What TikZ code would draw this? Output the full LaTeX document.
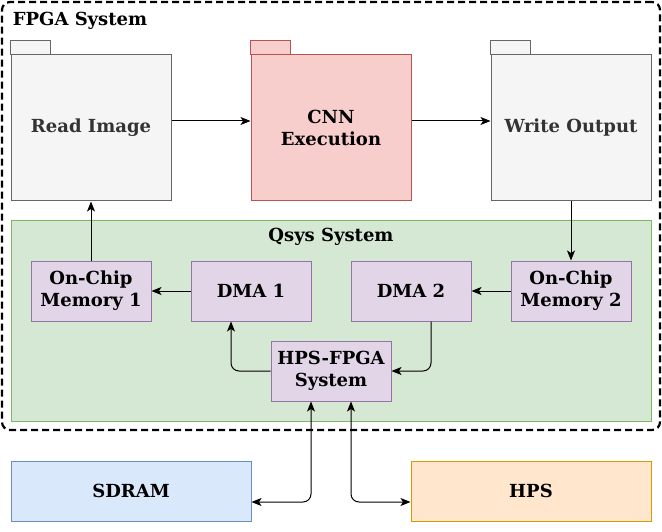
\documentclass[tikz,border=0pt]{standalone}
\usepackage{fontspec}
\setmainfont{DejaVu Serif}
\usetikzlibrary{arrows.meta}

\definecolor{pagegray}{HTML}{F5F5F5}
\definecolor{pageline}{HTML}{666666}
\definecolor{pagetext}{HTML}{333333}
\definecolor{cnnfill}{HTML}{F8CECC}
\definecolor{cnnline}{HTML}{B85450}
\definecolor{qsysfill}{HTML}{D5E8D4}
\definecolor{qsysline}{HTML}{82B366}
\definecolor{blockfill}{HTML}{E1D5E7}
\definecolor{blockline}{HTML}{9673A6}
\definecolor{ramfill}{HTML}{DAE8FC}
\definecolor{ramline}{HTML}{6C8EBF}
\definecolor{hpsfill}{HTML}{FFE6CC}
\definecolor{hpsline}{HTML}{D79B00}

\begin{document}
\begin{tikzpicture}
    [x=1pt,y=-1pt,line width=1pt,
     font=\fontsize{18}{22}\selectfont\bfseries,
     post/.style={-{Stealth[length=10pt,width=8pt,inset=2.5pt]}},
     both/.style={{Stealth[length=10pt,width=8pt,inset=2.5pt]}-{Stealth[length=10pt,width=8pt,inset=2.5pt]}},
     folder/.style={shape=rectangle,draw=pageline,fill=pagegray,text=pagetext,
       minimum width=160pt,minimum height=146pt,inner sep=0pt,align=center},
     tab/.style={draw=pageline,fill=pagegray},
     block/.style={shape=rectangle,draw=blockline,fill=blockfill,
       minimum width=120pt,minimum height=60pt,inner sep=0pt,align=center},
     wide/.style={shape=rectangle,minimum width=240pt,minimum height=60pt,inner sep=0pt}]
    \useasboundingbox (0,0) rectangle (662,532);
    % FPGA side
    \node [shape=rectangle,draw=black,line width=2.2pt,dash pattern=on 7pt off 4pt,
      rounded corners=8pt,minimum width=658pt,minimum height=428pt] (fpga) at (331,216) {};
    \node [anchor=west] (fpgalabel) at (9,21) {FPGA System};
    \node [folder] (read) at (91,128) {Read Image};
    \node [folder,draw=cnnline,fill=cnnfill,text=black] (cnn) at (331,128) {CNN\\Execution};
    \node [folder] (write) at (571,128) {Write Output};
    \draw [tab] (read.north west) rectangle ++(40,-14);
    \draw [tab,draw=cnnline,fill=cnnfill] (cnn.north west) rectangle ++(40,-14);
    \draw [tab] (write.north west) rectangle ++(40,-14);
    % Qsys
    \node [shape=rectangle,draw=qsysline,fill=qsysfill,
      minimum width=640pt,minimum height=200pt] (qsys) at (331,321) {};
    \node (qsyslabel) at (331,237) {Qsys System};
    \node [block] (ocm1) at (91,291) {On-Chip\\Memory 1};
    \node [block] (dma1) at (251,291) {DMA 1};
    \node [block] (dma2) at (411,291) {DMA 2};
    \node [block] (ocm2) at (571,291) {On-Chip\\Memory 2};
    \node [block] (link) at (331,371) {HPS-FPGA\\System};
    % outside
    \node [wide,draw=ramline,fill=ramfill] (sdram) at (131,491) {SDRAM};
    \node [wide,draw=hpsline,fill=hpsfill] (hps) at (531,491) {HPS};
    % connectors
    \draw [post] ([yshift=7pt]read.east) -- ([yshift=7pt]cnn.west);
    \draw [post] ([yshift=7pt]cnn.east) -- ([yshift=7pt]write.west);
    \draw [post] (write.south) -- (ocm2.north);
    \draw [post] (ocm2.west) -- (dma2.east);
    \draw [post] (dma1.west) -- (ocm1.east);
    \draw [post] (ocm1.north) -- (read.south);
    \draw [post,rounded corners=8pt] (link.west) -| ([xshift=-20pt]dma1.south);
    \draw [post,rounded corners=8pt] ([xshift=20pt]dma2.south) |- (link.east);
    \draw [both,rounded corners=8pt] ([xshift=-20pt]link.south) |- ([yshift=-11pt]sdram.east);
    \draw [both,rounded corners=8pt] ([xshift=20pt]link.south) |- ([yshift=-11pt]hps.west);
  \end{tikzpicture}
\end{document}
